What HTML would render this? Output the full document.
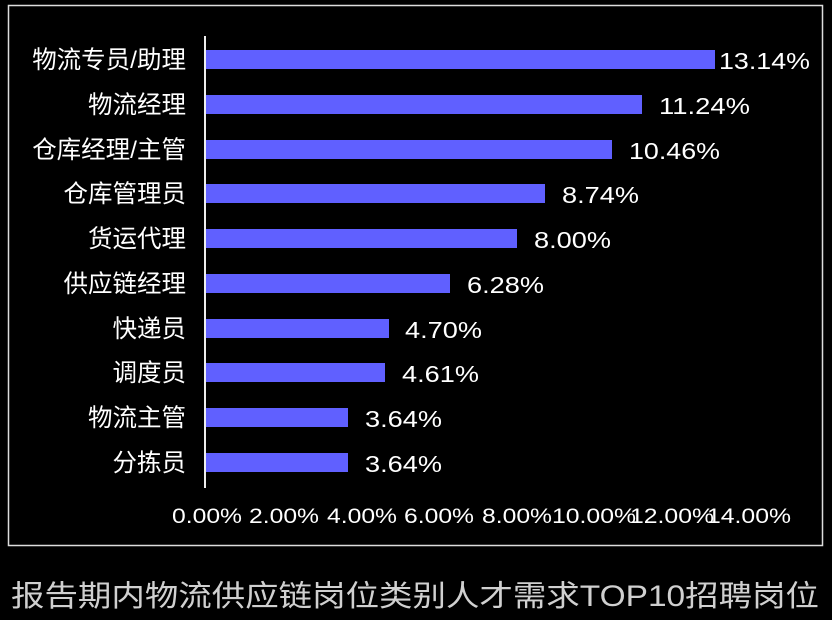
<!DOCTYPE html>
<html><head><meta charset="utf-8"><style>
body{margin:0;background:#000;width:832px;height:620px;overflow:hidden;font-family:"Liberation Sans","Noto Sans CJK SC",sans-serif}
</style></head><body>
<svg width="832" height="620" xmlns="http://www.w3.org/2000/svg" style="display:block">
<rect width="832" height="620" fill="#000"/>
<rect x="8.5" y="5.5" width="814" height="540" fill="none" stroke="#ddd" stroke-width="1.5"/>
<line x1="205" y1="36" x2="205" y2="488" stroke="#eee" stroke-width="2"/>
<g fill="#6060ff">
<rect x="206" y="50" width="509" height="19"/>
<rect x="206" y="95" width="436" height="19"/>
<rect x="206" y="140" width="406" height="19"/>
<rect x="206" y="184" width="339" height="19"/>
<rect x="206" y="229" width="311" height="19"/>
<rect x="206" y="274" width="244" height="19"/>
<rect x="206" y="319" width="183" height="19"/>
<rect x="206" y="363" width="179" height="19"/>
<rect x="206" y="408" width="142" height="19"/>
<rect x="206" y="453" width="142" height="19"/>
</g>
<g fill="#fff" font-size="24.5" font-family="'Liberation Sans','Noto Sans CJK SC',sans-serif" text-anchor="end">
<text x="186" y="68">物流专员/助理</text>
<text x="186" y="113">物流经理</text>
<text x="186" y="158">仓库经理/主管</text>
<text x="186" y="202">仓库管理员</text>
<text x="186" y="247">货运代理</text>
<text x="186" y="292">供应链经理</text>
<text x="186" y="337">快递员</text>
<text x="186" y="381">调度员</text>
<text x="186" y="426">物流主管</text>
<text x="186" y="471">分拣员</text>
</g>
<g fill="#fff" font-size="23.5" font-family="'Liberation Sans',sans-serif">
<text x="719" y="69" textLength="91" lengthAdjust="spacingAndGlyphs">13.14%</text>
<text x="659" y="114" textLength="91" lengthAdjust="spacingAndGlyphs">11.24%</text>
<text x="629" y="159" textLength="91" lengthAdjust="spacingAndGlyphs">10.46%</text>
<text x="562" y="203" textLength="77" lengthAdjust="spacingAndGlyphs">8.74%</text>
<text x="534" y="248" textLength="77" lengthAdjust="spacingAndGlyphs">8.00%</text>
<text x="467" y="293" textLength="77" lengthAdjust="spacingAndGlyphs">6.28%</text>
<text x="405" y="338" textLength="77" lengthAdjust="spacingAndGlyphs">4.70%</text>
<text x="402" y="382" textLength="77" lengthAdjust="spacingAndGlyphs">4.61%</text>
<text x="365" y="427" textLength="77" lengthAdjust="spacingAndGlyphs">3.64%</text>
<text x="365" y="472" textLength="77" lengthAdjust="spacingAndGlyphs">3.64%</text>
</g>
<g fill="#fff" font-size="21" font-family="'Liberation Sans',sans-serif" text-anchor="middle">
<text x="207" y="523" textLength="70" lengthAdjust="spacingAndGlyphs">0.00%</text>
<text x="284" y="523" textLength="70" lengthAdjust="spacingAndGlyphs">2.00%</text>
<text x="362" y="523" textLength="70" lengthAdjust="spacingAndGlyphs">4.00%</text>
<text x="439" y="523" textLength="70" lengthAdjust="spacingAndGlyphs">6.00%</text>
<text x="517" y="523" textLength="70" lengthAdjust="spacingAndGlyphs">8.00%</text>
<text x="594" y="523" textLength="84" lengthAdjust="spacingAndGlyphs">10.00%</text>
<text x="672" y="523" textLength="84" lengthAdjust="spacingAndGlyphs">12.00%</text>
<text x="749" y="523" textLength="84" lengthAdjust="spacingAndGlyphs">14.00%</text>
</g>
<text x="11" y="606" fill="#d0d0d0" font-size="29.5" font-family="'Liberation Sans','Noto Sans CJK SC',sans-serif" textLength="808" lengthAdjust="spacingAndGlyphs">报告期内物流供应链岗位类别人才需求TOP10招聘岗位</text>
</svg>
</body></html>
